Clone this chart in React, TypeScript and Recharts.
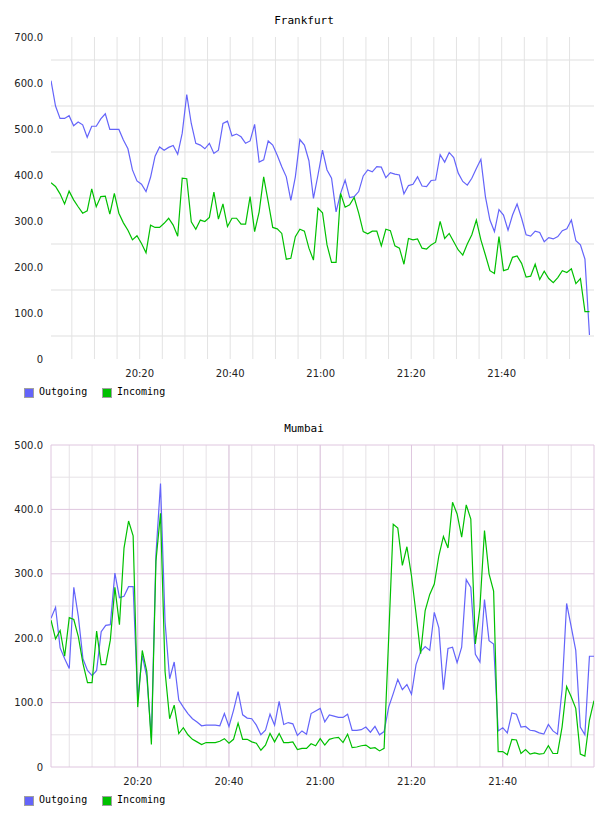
import React from 'react';
import { LineChart, Line, XAxis, YAxis, CartesianGrid } from 'recharts';

// Traffic samples, one per minute, 20:00 – 22:00
const frankfurtOutgoing = [
  605, 550, 523, 523, 529, 507, 515, 509, 482, 506,
  506, 522, 533, 499, 499, 499, 476, 457, 411, 387,
  380, 364, 395, 441, 461, 454, 460, 464, 445, 491,
  575, 512, 469, 465, 457, 469, 447, 454, 512, 517,
  485, 489, 483, 469, 474, 510, 428, 433, 474, 465,
  443, 418, 396, 345, 396, 477, 465, 431, 349, 400,
  454, 411, 393, 320, 360, 389, 351, 353, 364, 398,
  411, 407, 418, 417, 394, 405, 402, 400, 359, 377,
  380, 396, 376, 375, 388, 389, 444, 428, 449, 438,
  404, 386, 378, 393, 414, 434, 353, 302, 277, 325,
  313, 280, 313, 337, 306, 270, 267, 278, 275, 255,
  264, 261, 266, 279, 283, 302, 257, 248, 217, 52,
];

const frankfurtIncoming = [
  383, 375, 359, 337, 365, 346, 331, 317, 322, 370,
  331, 353, 354, 315, 360, 317, 296, 280, 259, 268,
  251, 231, 291, 286, 286, 295, 306, 291, 267, 393,
  392, 298, 282, 302, 299, 308, 363, 304, 337, 288,
  306, 306, 293, 293, 353, 277, 320, 396, 342, 286,
  283, 273, 217, 219, 266, 282, 278, 241, 215, 328,
  318, 248, 210, 210, 360, 330, 335, 351, 317, 277,
  272, 278, 278, 246, 282, 279, 246, 241, 206, 262,
  259, 261, 241, 239, 248, 254, 299, 262, 273, 255,
  237, 226, 250, 270, 302, 259, 226, 192, 186, 266,
  192, 195, 221, 224, 208, 178, 180, 206, 173, 191,
  175, 166, 177, 192, 188, 196, 164, 175, 103, 103,
];

const mumbaiOutgoing = [
  231, 248, 185, 168, 153, 279, 233, 168, 150, 142,
  150, 210, 220, 221, 301, 263, 265, 280, 280, 105,
  173, 140, 45, 330, 440, 225, 137, 163, 104, 93,
  83, 75, 70, 64, 65, 65, 65, 64, 83, 63,
  88, 117, 81, 76, 75, 65, 50, 57, 82, 65,
  102, 66, 69, 67, 49, 56, 51, 83, 87, 91,
  70, 81, 79, 77, 77, 82, 57, 57, 58, 62,
  54, 63, 50, 55, 93, 114, 136, 120, 128, 113,
  159, 179, 187, 181, 240, 216, 120, 184, 186, 162,
  186, 291, 279, 175, 163, 260, 196, 191, 56, 61,
  53, 84, 82, 62, 63, 57, 56, 53, 51, 66,
  56, 51, 120, 254, 218, 181, 62, 50, 172, 172,
];

const mumbaiIncoming = [
  228, 199, 212, 172, 232, 229, 202, 161, 131, 131,
  211, 159, 159, 197, 279, 221, 340, 382, 359, 93,
  181, 148, 35, 320, 394, 148, 75, 96, 52, 61,
  50, 43, 39, 35, 38, 38, 38, 40, 44, 37,
  43, 68, 43, 43, 39, 37, 26, 34, 52, 39,
  52, 38, 38, 39, 27, 29, 29, 36, 33, 44,
  34, 43, 45, 46, 38, 51, 30, 31, 33, 34,
  29, 30, 25, 29, 200, 377, 371, 313, 342, 297,
  238, 176, 243, 268, 284, 328, 358, 340, 411, 393,
  357, 407, 385, 191, 248, 367, 300, 273, 24, 24,
  19, 43, 42, 21, 27, 20, 22, 20, 21, 33,
  21, 21, 62, 125, 109, 91, 20, 17, 73, 103,
];

// Time axis in minutes after 20:00
const timeTicks = [20, 40, 60, 80, 100];
const fiveMinuteMarks = [5, 10, 15, 20, 25, 30, 35, 40, 45, 50, 55, 60, 65, 70, 75, 80, 85, 90, 95, 100, 105, 110, 115];
const frankfurtValueTicks = [0, 100, 200, 300, 400, 500, 600, 700];
const frankfurtHalfSteps = [50, 150, 250, 350, 450, 550, 650];
const mumbaiValueTicks = [0, 100, 200, 300, 400, 500];
const mumbaiHalfSteps = [50, 150, 250, 350, 450];
const mumbaiMajorTimes = [1, 20, 40, 60, 80, 100, 120];

const OUT_COLOR = '#6464fa';
const IN_COLOR = '#00c000';

const buildRows = (start: number, out: number[], inc: number[]) =>
  out.map((v, i) => ({ t: start + i, out: v, inc: inc[i] }));

const frankfurtRows = buildRows(0.4, frankfurtOutgoing, frankfurtIncoming);
const mumbaiRows = buildRows(1, mumbaiOutgoing, mumbaiIncoming);

const formatTime = (m: number) => {
  const h = 20 + Math.floor(m / 60);
  const mm = Math.round(m % 60);
  return `${h}:${String(mm).padStart(2, '0')}`;
};
const formatValue = (v: number) => (v === 0 ? '0' : v.toFixed(1));

const tickStyle = { fontSize: 10, fontFamily: '"DejaVu Sans", Verdana, sans-serif', fill: '#222' };
const monoFont = '"DejaVu Sans Mono", "Liberation Mono", monospace';

type PanelProps = {
  title: string;
  top: number;
  rows: { t: number; out: number; inc: number }[];
  xDomain: [number, number];
  yMax: number;
  yTicks: number[];
  variant: 'plain' | 'framed';
};

function Legend() {
  const item = (label: string, color: string, left: number) => (
    <div key={label} style={{ position: 'absolute', left, top: 0, height: 12 }}>
      <div
        style={{
          position: 'absolute',
          left: 0,
          top: 1,
          width: 10,
          height: 10,
          boxSizing: 'border-box',
          border: '1px solid #a0a0a0',
          background: color,
        }}
      />
      <div
        style={{
          position: 'absolute',
          left: 15,
          top: 0,
          fontFamily: monoFont,
          fontSize: 10,
          lineHeight: '10px',
          color: '#000',
          whiteSpace: 'nowrap',
        }}
      >
        {label}
      </div>
    </div>
  );
  return (
    <div style={{ position: 'absolute', left: 24, top: 387, width: 200, height: 12 }}>
      {item('Outgoing', OUT_COLOR, 0)}
      {item('Incoming', IN_COLOR, 78)}
    </div>
  );
}

function Panel({ title, top, rows, xDomain, yMax, yTicks, variant }: PanelProps) {
  return (
    <div style={{ position: 'absolute', left: 0, top, width: 608, height: 408 }}>
      <div
        style={{
          position: 'absolute',
          left: 0,
          top: 15,
          width: 608,
          textAlign: 'center',
          fontFamily: monoFont,
          fontSize: 11,
          lineHeight: '11px',
          color: '#000',
        }}
      >
        {title}
      </div>
      <div style={{ position: 'absolute', left: 0, top: 0 }}>
        <LineChart width={608} height={400} data={rows} margin={{ top: 37, right: 14, bottom: 11, left: 6 }}>
          {variant === 'plain' ? (
            <>
              <CartesianGrid
                vertical={false}
                horizontalValues={frankfurtHalfSteps}
                stroke="#efefef"
                strokeWidth={2}
              />
              <CartesianGrid horizontal={false} verticalValues={fiveMinuteMarks} stroke="#e3e3e3" strokeWidth={1} />
            </>
          ) : (
            <>
              <CartesianGrid horizontalValues={mumbaiHalfSteps} verticalValues={fiveMinuteMarks} stroke="#e6e2e6" strokeWidth={1} />
              <CartesianGrid horizontalValues={mumbaiValueTicks} verticalValues={mumbaiMajorTimes} stroke="#dfc6df" strokeWidth={1} />
            </>
          )}
          <XAxis
            dataKey="t"
            type="number"
            domain={xDomain}
            allowDataOverflow
            ticks={timeTicks}
            interval={0}
            tickFormatter={formatTime}
            axisLine={false}
            tickLine={false}
            tickMargin={5}
            tick={tickStyle}
            height={30}
          />
          <YAxis
            type="number"
            domain={[0, yMax]}
            ticks={yTicks}
            interval={0}
            tickFormatter={formatValue}
            axisLine={false}
            tickLine={false}
            tick={tickStyle}
            width={45}
          />
          <Line type="linear" dataKey="out" stroke={OUT_COLOR} strokeWidth={1.2} dot={false} activeDot={false} isAnimationActive={false} />
          <Line type="linear" dataKey="inc" stroke={IN_COLOR} strokeWidth={1.2} dot={false} activeDot={false} isAnimationActive={false} />
        </LineChart>
      </div>
      <Legend />
    </div>
  );
}

export default function App() {
  return (
    <div style={{ position: 'absolute', left: 0, top: 0, width: 608, height: 816, background: '#fff' }}>
      <Panel
        title="Frankfurt"
        top={0}
        rows={frankfurtRows}
        xDomain={[0.4, 120.4]}
        yMax={700}
        yTicks={frankfurtValueTicks}
        variant="plain"
      />
      <Panel
        title="Mumbai"
        top={408}
        rows={mumbaiRows}
        xDomain={[1, 120]}
        yMax={500}
        yTicks={mumbaiValueTicks}
        variant="framed"
      />
    </div>
  );
}
